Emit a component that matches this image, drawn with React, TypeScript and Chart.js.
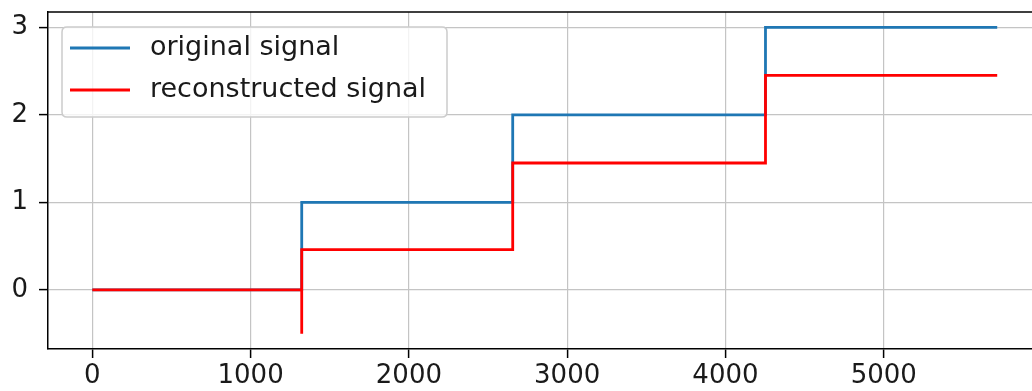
import React, { useEffect, useRef } from "react";
import { Chart, registerables } from "chart.js";

Chart.register(...registerables);

const seriesNames = ["original signal", "reconstructed signal"];
const seriesColors = ["#1f77b4", "#ff0000"];
const originalX = [0, 1323, 1323, 2656, 2656, 4253, 4253, 5717];
const originalY = [0, 0, 1, 1, 2, 2, 3, 3];
const reconX = [0, 1323, 1323, 1323, 2656, 2656, 4253, 4253, 5717];
const reconY = [0, 0, -0.5, 0.46, 0.46, 1.45, 1.45, 2.45, 2.45];
const xTicks = [0, 1000, 2000, 3000, 4000, 5000];
const yTicks = [0, 1, 2, 3];

const FONT = "'DejaVu Sans', sans-serif";
const TICK_SIZE = 26;
const LEGEND_SIZE = 27;
const TEXT_COLOR = "#1a1a1a";

const legendPlugin = {
  id: "mplLegend",
  afterDatasetsDraw(chart: any) {
    const ctx = chart.ctx;
    const a = chart.chartArea;
    const x = a.left + 14;
    const y = a.top + 15;
    const w = 385;
    const h = 90;
    const r = 5;
    ctx.save();
    ctx.beginPath();
    ctx.moveTo(x + r, y);
    ctx.lineTo(x + w - r, y);
    ctx.quadraticCurveTo(x + w, y, x + w, y + r);
    ctx.lineTo(x + w, y + h - r);
    ctx.quadraticCurveTo(x + w, y + h, x + w - r, y + h);
    ctx.lineTo(x + r, y + h);
    ctx.quadraticCurveTo(x, y + h, x, y + h - r);
    ctx.lineTo(x, y + r);
    ctx.quadraticCurveTo(x, y, x + r, y);
    ctx.closePath();
    ctx.fillStyle = "rgba(255,255,255,0.8)";
    ctx.fill();
    ctx.strokeStyle = "#cccccc";
    ctx.lineWidth = 1.5;
    ctx.stroke();
    ctx.font = `${LEGEND_SIZE}px ${FONT}`;
    ctx.textBaseline = "middle";
    ctx.textAlign = "left";
    seriesNames.forEach((name, i) => {
      const cy = y + 21 + i * 42;
      ctx.beginPath();
      ctx.moveTo(x + 8, cy);
      ctx.lineTo(x + 68, cy);
      ctx.strokeStyle = seriesColors[i];
      ctx.lineWidth = 2.8;
      ctx.stroke();
      ctx.fillStyle = TEXT_COLOR;
      ctx.fillText(name, x + 88, cy);
    });
    ctx.restore();
  },
  afterDraw(chart: any) {
    const ctx = chart.ctx;
    const a = chart.chartArea;
    ctx.save();
    ctx.strokeStyle = "#000";
    ctx.lineWidth = 1.5;
    ctx.beginPath();
    ctx.moveTo(a.left, a.top);
    ctx.lineTo(a.right, a.top);
    ctx.lineTo(a.right, a.bottom);
    ctx.stroke();
    ctx.restore();
  },
};

export default function App() {
  const ref = useRef<HTMLCanvasElement>(null);
  useEffect(() => {
    document.body.style.margin = "0";
    document.body.style.background = "#fff";
    if (!ref.current) return;
    const chart = new Chart(ref.current, {
      type: "line",
      data: {
        datasets: [
          {
            label: seriesNames[0],
            data: originalX.map((x, i) => ({ x, y: originalY[i] })),
            borderColor: seriesColors[0],
            borderWidth: 2.8,
            pointRadius: 0,
            fill: false,
            tension: 0,
            order: 1,
          },
          {
            label: seriesNames[1],
            data: reconX.map((x, i) => ({ x, y: reconY[i] })),
            borderColor: seriesColors[1],
            borderWidth: 2.8,
            pointRadius: 0,
            fill: false,
            tension: 0,
            order: 0,
          },
        ],
      },
      options: {
        animation: false,
        responsive: false,
        devicePixelRatio: 1,
        layout: { padding: { top: 12, right: 10, left: 0, bottom: 0 } },
        plugins: { legend: { display: false }, tooltip: { enabled: false } },
        scales: {
          x: {
            type: "linear",
            min: -280,
            max: 6000,
            afterBuildTicks: (s: any) => {
              s.ticks = xTicks.map((v) => ({ value: v }));
            },
            afterFit: (s: any) => {
              s.height = 42;
              s.paddingLeft = 0;
              s.paddingRight = 0;
            },
            grid: {
              color: "#c4c4c4",
              lineWidth: 1.2,
              tickColor: "#000",
              tickLength: 9,
              tickWidth: 1.5,
            },
            border: { color: "#000", width: 1.5 },
            ticks: {
              font: { family: FONT, size: TICK_SIZE },
              color: TEXT_COLOR,
              padding: 3,
              maxRotation: 0,
              autoSkip: false,
              callback: (v: any) => String(v),
            },
          },
          y: {
            type: "linear",
            min: -0.675,
            max: 3.175,
            afterBuildTicks: (s: any) => {
              s.ticks = yTicks.map((v) => ({ value: v }));
            },
            afterFit: (s: any) => {
              s.width = 48;
              s.paddingTop = 0;
              s.paddingBottom = 0;
            },
            grid: {
              color: "#c4c4c4",
              lineWidth: 1.2,
              tickColor: "#000",
              tickLength: 9,
              tickWidth: 1.5,
            },
            border: { color: "#000", width: 1.5 },
            ticks: {
              font: { family: FONT, size: TICK_SIZE },
              color: TEXT_COLOR,
              padding: 11,
              autoSkip: false,
              callback: (v: any) => String(v),
            },
          },
        },
      },
      plugins: [legendPlugin],
    } as any);
    return () => chart.destroy();
  }, []);
  return (
    <div style={{ width: 1032, height: 391, overflow: "hidden", position: "relative" }}>
      <canvas ref={ref} width={1052} height={391} style={{ display: "block" }} />
    </div>
  );
}
